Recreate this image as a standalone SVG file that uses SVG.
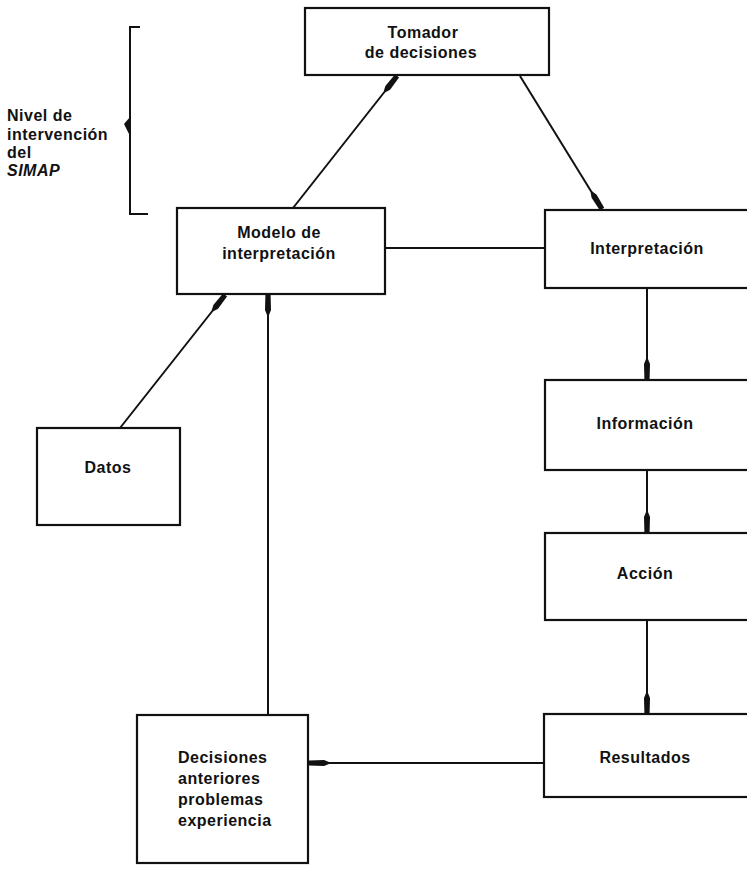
<svg xmlns="http://www.w3.org/2000/svg" width="747" height="869" viewBox="0 0 747 869">
<defs>
<style>
.box{fill:none;stroke:#111;stroke-width:2.2}
.ln{fill:none;stroke:#111;stroke-width:2}
text{font-family:"Liberation Sans",Arial,sans-serif;font-weight:bold;font-size:16px;fill:#111;letter-spacing:0.5px}
.c{text-anchor:middle}
</style>
<marker id="ah" viewBox="-22 -5 24 10" refX="0" refY="0" markerWidth="24" markerHeight="10" markerUnits="userSpaceOnUse" orient="auto">
<path d="M-20,-1 L-15,-3 L0,-2.6 L0,2.6 L-15,3 L-20,1 Z" fill="#111"/>
</marker>
</defs>
<rect width="747" height="869" fill="#fff"/>
<g id="connectors">
<line class="ln" x1="293" y1="208" x2="397" y2="76" marker-end="url(#ah)"/>
<line class="ln" x1="520" y1="76" x2="602" y2="209" marker-end="url(#ah)"/>
<line class="ln" x1="386" y1="248" x2="545" y2="248"/>
<line class="ln" x1="120" y1="428" x2="225" y2="295" marker-end="url(#ah)"/>
<line class="ln" x1="268" y1="715" x2="268" y2="295" marker-end="url(#ah)"/>
<line class="ln" x1="647" y1="289" x2="647" y2="379" marker-end="url(#ah)"/>
<line class="ln" x1="647" y1="471" x2="647" y2="532" marker-end="url(#ah)"/>
<line class="ln" x1="647" y1="621" x2="647" y2="713" marker-end="url(#ah)"/>
<line class="ln" x1="544" y1="763" x2="309" y2="763" marker-end="url(#ah)"/>
</g>
<g id="bracket">
<path class="ln" d="M140,27 L130,27 L130,214 L148,214"/>
<path d="M130,117 L124,124 L130,136 Z" fill="#111"/>
<text x="7" y="121">Nivel de</text>
<text x="7" y="140">intervención</text>
<text x="7" y="158">del</text>
<text x="7" y="176" font-style="italic">SIMAP</text>
</g>
<g id="tomador">
<rect class="box" x="305" y="8" width="244" height="67"/>
<text class="c" x="423" y="38">Tomador</text>
<text class="c" x="421" y="58">de decisiones</text>
</g>
<g id="modelo">
<rect class="box" x="177" y="208" width="208" height="86"/>
<text class="c" x="279" y="238">Modelo de</text>
<text class="c" x="279" y="259">interpretación</text>
</g>
<g id="interpretacion">
<rect class="box" x="545" y="210" width="210" height="78"/>
<text class="c" x="647" y="254">Interpretación</text>
</g>
<g id="datos">
<rect class="box" x="37" y="428" width="143" height="97"/>
<text class="c" x="108" y="473">Datos</text>
</g>
<g id="informacion">
<rect class="box" x="545" y="380" width="210" height="90"/>
<text class="c" x="645" y="429">Información</text>
</g>
<g id="accion">
<rect class="box" x="545" y="533" width="210" height="87"/>
<text class="c" x="645" y="579">Acción</text>
</g>
<g id="resultados">
<rect class="box" x="544" y="714" width="210" height="83"/>
<text class="c" x="645" y="763">Resultados</text>
</g>
<g id="decisiones">
<rect class="box" x="137" y="715" width="171" height="148"/>
<text x="178" y="763">Decisiones</text>
<text x="178" y="784">anteriores</text>
<text x="178" y="805">problemas</text>
<text x="178" y="826">experiencia</text>
</g>
</svg>
